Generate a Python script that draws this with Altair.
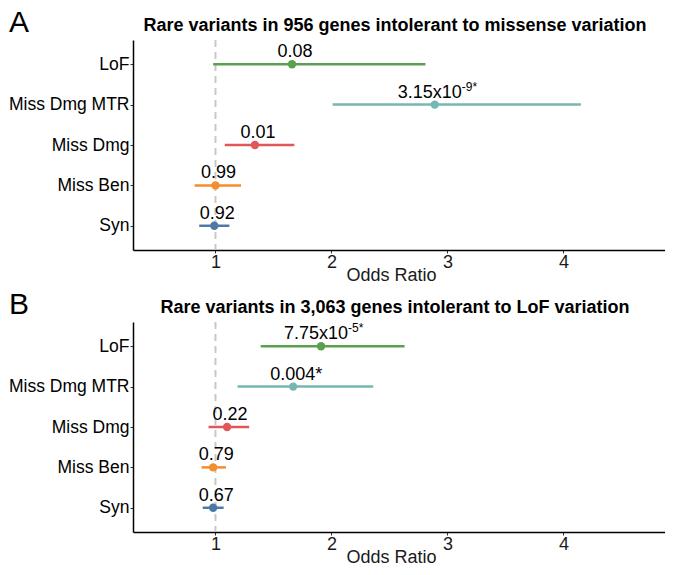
import altair as alt
import pandas as pd

FONT = "Liberation Sans"

categories = ["LoF", "Miss Dmg MTR", "Miss Dmg", "Miss Ben", "Syn"]
colors = ["#59a14f", "#76b7b2", "#e15759", "#f28e2b", "#4e79a7"]
x_ticks = [1, 2, 3, 4]
ref_line = [1.0]

# Panel A: 956 genes intolerant to missense variation
a_or = [1.66, 2.89, 1.34, 1.00, 0.99]
a_lo = [0.98, 2.01, 1.08, 0.82, 0.86]
a_hi = [2.81, 4.15, 1.68, 1.22, 1.12]
a_label = ["0.08", "3.15x10", "0.01", "0.99", "0.92"]
a_sup = ["", "-9*", "", "", ""]

# Panel B: 3,063 genes intolerant to LoF variation
b_or = [1.91, 1.67, 1.10, 0.98, 0.98]
b_lo = [1.39, 1.19, 0.94, 0.88, 0.89]
b_hi = [2.63, 2.36, 1.29, 1.09, 1.07]
b_label = ["7.75x10", "0.004*", "0.22", "0.79", "0.67"]
b_sup = ["-5*", "", "", "", ""]

title_a = "Rare variants in 956 genes intolerant to missense variation"
title_b = "Rare variants in 3,063 genes intolerant to LoF variation"

W = 532
H = 210


def make_df(o, lo, hi, lab, sup):
    return pd.DataFrame({"cat": categories, "or": o, "lo": lo, "hi": hi,
                         "label": lab, "sup": sup})


def panel(df, title_text, letter):
    x_scale = alt.Scale(domain=[0.289, 4.875], nice=False, zero=False)
    x_axis = alt.Axis(values=x_ticks, title="Odds Ratio", labelFontSize=18,
                      titleFontSize=18, titleFontWeight="normal", titlePadding=-5,
                      titleX=W / 2 - 8, titleAlign="center",
                      labelColor="#1a1a1a", titleColor="#1a1a1a", tickColor="#333333",
                      tickSize=3, domainColor="black", domainWidth=1.5, grid=False,
                      labelFont=FONT, titleFont=FONT, labelPadding=0)
    y_enc = alt.Y("cat:N", sort=categories,
                  scale=alt.Scale(type="point", padding=0.6),
                  axis=alt.Axis(title=None, labelFontSize=17.5, labelColor="black",
                                tickSize=3, tickColor="#333333", domainColor="black",
                                domainWidth=1.5, labelPadding=1, grid=False,
                                labelFont=FONT))
    color = alt.Color("cat:N", scale=alt.Scale(domain=categories, range=colors),
                      legend=None)
    base = alt.Chart(df)

    ref = alt.Chart(pd.DataFrame({"ref": ref_line})).mark_rule(
        color="#c8c8c8", strokeDash=[7, 5], strokeWidth=2
    ).encode(x=alt.X("ref:Q", scale=x_scale, axis=x_axis))

    ci = base.mark_rule(strokeWidth=2.5).encode(
        x=alt.X("lo:Q", scale=x_scale, axis=x_axis), x2="hi:Q", y=y_enc, color=color)

    pt = base.mark_circle(size=70, opacity=1).encode(
        x=alt.X("or:Q", scale=x_scale, axis=x_axis), y=y_enc, color=color)

    plain = base.transform_filter("datum.sup == ''").mark_text(
        fontSize=18, dy=-7, dx=3, baseline="alphabetic", font=FONT, color="black"
    ).encode(x=alt.X("or:Q", scale=x_scale, axis=x_axis), y=y_enc, text="label:N")

    main = base.transform_filter("datum.sup != ''").mark_text(
        fontSize=18, dy=-7, dx=27, align="right", baseline="alphabetic", font=FONT,
        color="black"
    ).encode(x=alt.X("or:Q", scale=x_scale, axis=x_axis), y=y_enc, text="label:N")

    sup = base.transform_filter("datum.sup != ''").mark_text(
        fontSize=12, dy=-14, dx=27, align="left", baseline="alphabetic", font=FONT,
        color="black"
    ).encode(x=alt.X("or:Q", scale=x_scale, axis=x_axis), y=y_enc, text="sup:N")

    title = alt.Chart(pd.DataFrame({"t": [title_text]})).mark_text(
        fontSize=18, fontWeight="bold", font=FONT, align="center",
        baseline="alphabetic", color="black"
    ).encode(x=alt.value(W / 2 - 4), y=alt.value(-9), text="t:N")

    lett = alt.Chart(pd.DataFrame({"t": [letter]})).mark_text(
        fontSize=30, font=FONT, align="left", baseline="alphabetic", color="black"
    ).encode(x=alt.value(-124), y=alt.value(-8), text="t:N")

    return alt.layer(ref, ci, pt, plain, main, sup, title, lett).properties(
        width=W, height=H)


pa = panel(make_df(a_or, a_lo, a_hi, a_label, a_sup), title_a, "A")
pb = panel(make_df(b_or, b_lo, b_hi, b_label, b_sup), title_b, "B")

chart = alt.vconcat(pa, pb, spacing=6).properties(
    padding={"left": 0, "top": 0, "right": 0, "bottom": 0}
).configure_view(stroke=None)

chart.save("out.html", embed_options={"renderer": "svg", "actions": False})
